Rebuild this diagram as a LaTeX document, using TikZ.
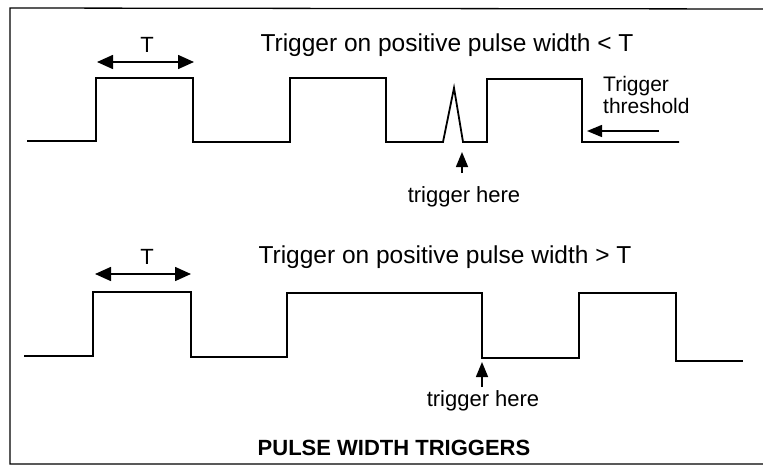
\documentclass[tikz,border=0pt]{standalone}
\usepackage{fontspec}
\setmainfont{Liberation Sans}
\usetikzlibrary{arrows.meta}
\begin{document}
\begin{tikzpicture}[x=1pt,y=-1pt,
  wave/.style={line width=1.8pt,line join=miter},
  frame/.style={line width=1.3pt},
  dimarrow/.style={line width=1.6pt,{Triangle[length=16pt,width=14pt]}-{Triangle[length=16pt,width=14pt]}},
  ptr/.style={line width=1.5pt,-{Triangle[length=15pt,width=12pt]}},
  lbl/.style={inner sep=0pt,font=\fontsize{22}{24}\selectfont},
  ttl/.style={inner sep=0pt,font=\fontsize{24.5}{26}\selectfont},
  note/.style={inner sep=0pt,font=\fontsize{21}{22}\selectfont}]
\useasboundingbox (0,0) rectangle (763,466);
% frame
\draw[frame] (763,9) -- (10,8) -- (10,464) -- (763,464);
% top waveform
\draw[wave] (27,141) -- (96,141) -- (96,78) -- (193,78) -- (193,142) -- (290,142)
  -- (290,78) -- (386,78) -- (386,142) -- (443,142) -- (454,88) -- (463,142)
  -- (487,142) -- (487,79) -- (582,79) -- (582,142) -- (679,142);
% bottom waveform
\draw[wave] (24,356) -- (93,356) -- (93,292) -- (191,292) -- (191,357) -- (287,357)
  -- (287,293) -- (482,293) -- (482,358) -- (579,358) -- (579,293) -- (676,293)
  -- (676,361) -- (743,361);
% top labels
\coordinate (t1a) at (97,62);
\coordinate (t1b) at (194,62);
\draw[dimarrow] (t1a) -- (t1b);
\node[lbl] (T1) at (147,45) {T};
\node[ttl] (title1) at (447,45) {Trigger on positive pulse width < T};
\node[note,anchor=west] (thr) at (603,98)
  {\begin{tabular}{@{}l@{}}Trigger\\threshold\end{tabular}};
\coordinate (thrs) at (659,131);
\coordinate (thre) at (587,131);
\draw[ptr] (thrs) -- (thre);
\node[lbl] (here1) at (464,197) {trigger here};
\coordinate (h1tip) at (462,152);
\coordinate (h1s) at (462,173);
\draw[ptr] (h1s) -- (h1tip);
% bottom labels
\coordinate (t2a) at (95,274);
\coordinate (t2b) at (191,274);
\draw[dimarrow] (t2a) -- (t2b);
\node[lbl] (T2) at (147,257) {T};
\node[ttl] (title2) at (445,257) {Trigger on positive pulse width > T};
\node[lbl] (here2) at (483,401) {trigger here};
\coordinate (h2tip) at (482,362);
\coordinate (h2s) at (482,387);
\draw[ptr] (h2s) -- (h2tip);
\node[lbl,font=\fontsize{22}{24}\selectfont\bfseries] (main) at (394,448) {PULSE WIDTH TRIGGERS};
\end{tikzpicture}
\end{document}
